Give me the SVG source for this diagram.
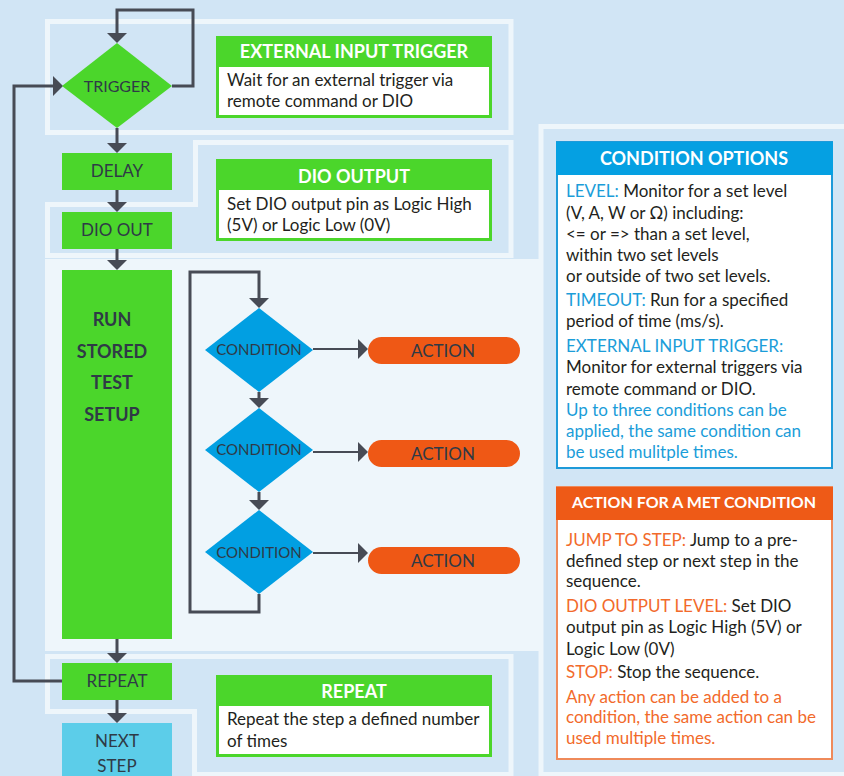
<svg xmlns="http://www.w3.org/2000/svg" width="844" height="776" viewBox="0 0 844 776">
<defs>
<style>
.bg{fill:#D1E5F5}
.pan{fill:none;stroke:#EEF6FB;stroke-width:5}
.panf{fill:#EEF6FB}
.green{fill:#4BD62B}
.blue{fill:#019FE2}
.orange{fill:#EF5815}
.cyan{fill:#5CCDE9}
.white{fill:#FFFFFF}
.conn{fill:none;stroke:#474B55;stroke-width:3}
.thin{fill:none;stroke:#474B55;stroke-width:2}
.nt{font-family:Lato,"Liberation Sans",sans-serif;fill:#2F3A46;text-anchor:middle}
.bt{font-family:Lato,"Liberation Sans",sans-serif;font-weight:bold;fill:#2F3A46;text-anchor:middle;font-size:18px}
.title{font-family:Lato,"Liberation Sans",sans-serif;font-weight:bold;fill:#FFFFFF;text-anchor:middle}
.body{font-family:Lato,"Liberation Sans",sans-serif;fill:#231F20;font-size:17px}
.lb{fill:#1B9DD9}
.lo{fill:#F26A2B}
</style>
<marker id="ah" markerUnits="userSpaceOnUse" viewBox="0 0 10 20" refX="0" refY="10" markerWidth="10" markerHeight="20" orient="auto">
<path d="M0,0 L10,10 L0,20 Z" fill="#474B55"/>
</marker>
</defs>
<rect class="bg" x="0" y="0" width="844" height="776"/>
<g id="panels">
<rect class="panf" x="45" y="259" width="496" height="392"/>
<rect class="pan" x="47.5" y="21.5" width="463.5" height="111"/>
<path class="pan" d="M195.5,142.5 H511 V255.5 H47.5 V204.5 H195.5 Z"/>
<path class="pan" d="M47.5,656.5 H511 V774.5 H194.5 V711.5 H47.5 Z"/>
<rect class="pan" x="541" y="126.5" width="310" height="648"/>
</g>
<g id="connectors">
<path class="conn" d="M172,86 H193 V10 H117 V33" marker-end="url(#ah)"/>
<path class="conn" d="M117,128 V143" marker-end="url(#ah)"/>
<path class="conn" d="M117,190 V202" marker-end="url(#ah)"/>
<path class="conn" d="M117,249 V260" marker-end="url(#ah)"/>
<path class="conn" d="M117,639 V653" marker-end="url(#ah)"/>
<path class="conn" d="M117,700 V713" marker-end="url(#ah)"/>
<path class="conn" d="M62,681 H14 V86 H53" marker-end="url(#ah)"/>
<path class="conn" d="M259,594 V612 H190 V272 H259 V298" marker-end="url(#ah)"/>
<path class="conn" d="M259,392 V398" marker-end="url(#ah)"/>
<path class="conn" d="M259,492 V500" marker-end="url(#ah)"/>
<path class="thin" d="M313,349 H358" marker-end="url(#ah)"/>
<path class="thin" d="M313,452 H358" marker-end="url(#ah)"/>
<path class="thin" d="M313,553 H358" marker-end="url(#ah)"/>
</g>
<g id="trigger">
<polygon class="green" points="117,43 172,86 117,128 62,86"/>
<text class="nt" x="117" y="91.5" font-size="16">TRIGGER</text>
</g>
<g id="delay">
<rect class="green" x="62" y="153" width="110" height="37"/>
<text class="nt" x="117" y="177" font-size="17">DELAY</text>
</g>
<g id="dio-out">
<rect class="green" x="62" y="212" width="110" height="37"/>
<text class="nt" x="117" y="236" font-size="17">DIO OUT</text>
</g>
<g id="run">
<rect class="green" x="62" y="270" width="110" height="369"/>
<text class="bt" x="112" y="326">RUN</text>
<text class="bt" x="112" y="358">STORED</text>
<text class="bt" x="112" y="389">TEST</text>
<text class="bt" x="112" y="421">SETUP</text>
</g>
<g id="condition1">
<polygon class="blue" points="259,308 313,350 259,392 205,350"/>
<text class="nt" x="259" y="354.5" font-size="15">CONDITION</text>
</g>
<g id="condition2">
<polygon class="blue" points="259,408 313,450 259,492 205,450"/>
<text class="nt" x="259" y="454.5" font-size="15">CONDITION</text>
</g>
<g id="condition3">
<polygon class="blue" points="259,510 313,552 259,594 205,552"/>
<text class="nt" x="259" y="557.5" font-size="15">CONDITION</text>
</g>
<g id="action1">
<rect class="orange" x="368" y="337" width="152" height="27" rx="13.5"/>
<text class="nt" x="443" y="356.5" font-size="17">ACTION</text>
</g>
<g id="action2">
<rect class="orange" x="368" y="440" width="152" height="27" rx="13.5"/>
<text class="nt" x="443" y="459.5" font-size="17">ACTION</text>
</g>
<g id="action3">
<rect class="orange" x="368" y="547" width="152" height="27" rx="13.5"/>
<text class="nt" x="443" y="566.5" font-size="17">ACTION</text>
</g>
<g id="repeat">
<rect class="green" x="62" y="663" width="110" height="37"/>
<text class="nt" x="117" y="687" font-size="17">REPEAT</text>
</g>
<g id="next-step">
<rect class="cyan" x="62" y="723" width="110" height="60"/>
<text class="nt" x="117" y="747" font-size="17">NEXT</text>
<text class="nt" x="117" y="772" font-size="17">STEP</text>
</g>
<g id="info-trigger">
<rect class="green" x="216" y="36" width="276" height="82"/>
<rect class="white" x="219" y="67" width="270" height="48"/>
<text class="title" x="354" y="58" font-size="18">EXTERNAL INPUT TRIGGER</text>
<text class="body" x="227" y="86">Wait for an external trigger via</text>
<text class="body" x="227" y="107">remote command or DIO</text>
</g>
<g id="info-dio">
<rect class="green" x="216" y="159" width="276" height="82"/>
<rect class="white" x="219" y="190" width="270" height="48"/>
<text class="title" x="354" y="183" font-size="18">DIO OUTPUT</text>
<text class="body" x="227" y="210">Set DIO output pin as Logic High</text>
<text class="body" x="227" y="231">(5V) or Logic Low (0V)</text>
</g>
<g id="info-repeat">
<rect class="green" x="216" y="675" width="276" height="82"/>
<rect class="white" x="219" y="706" width="270" height="48"/>
<text class="title" x="354" y="698" font-size="18">REPEAT</text>
<text class="body" x="227" y="725">Repeat the step a defined number</text>
<text class="body" x="227" y="747">of times</text>
</g>
<g id="condition-options">
<rect x="557" y="142" width="275" height="326" fill="#FFFFFF" stroke="#1E9AD9" stroke-width="2"/>
<rect x="556" y="142" width="277" height="33" fill="#05A0E2"/>
<text class="title" x="694" y="165" font-size="18">CONDITION OPTIONS</text>
<text class="body" x="566" y="197"><tspan class="lb">LEVEL:</tspan> Monitor for a set level</text>
<text class="body" x="566" y="219">(V, A, W or Ω) including:</text>
<text class="body" x="566" y="240">&lt;= or =&gt; than a set level,</text>
<text class="body" x="566" y="261">within two set levels</text>
<text class="body" x="566" y="282">or outside of two set levels.</text>
<text class="body" x="566" y="306"><tspan class="lb">TIMEOUT:</tspan> Run for a specified</text>
<text class="body" x="566" y="327">period of time (ms/s).</text>
<text class="body lb" x="566" y="352">EXTERNAL INPUT TRIGGER:</text>
<text class="body" x="566" y="373">Monitor for external triggers via</text>
<text class="body" x="566" y="395">remote command or DIO.</text>
<text class="body lb" x="566" y="416">Up to three conditions can be</text>
<text class="body lb" x="566" y="437">applied, the same condition can</text>
<text class="body lb" x="566" y="458">be used mulitple times.</text>
</g>
<g id="action-options">
<rect x="557" y="487" width="275" height="272" fill="#FFFFFF" stroke="#EF8A5A" stroke-width="2"/>
<rect x="556" y="487" width="277" height="33" fill="#EE5A17"/>
<text class="title" x="694" y="508" font-size="16">ACTION FOR A MET CONDITION</text>
<text class="body" x="566" y="546"><tspan class="lo">JUMP TO STEP:</tspan> Jump to a pre-</text>
<text class="body" x="566" y="567">defined step or next step in the</text>
<text class="body" x="566" y="587">sequence.</text>
<text class="body" x="566" y="612"><tspan class="lo">DIO OUTPUT LEVEL:</tspan> Set DIO</text>
<text class="body" x="566" y="633">output pin as Logic High (5V) or</text>
<text class="body" x="566" y="655">Logic Low (0V)</text>
<text class="body" x="566" y="678"><tspan class="lo">STOP:</tspan> Stop the sequence.</text>
<text class="body lo" x="566" y="703">Any action can be added to a</text>
<text class="body lo" x="566" y="723">condition, the same action can be</text>
<text class="body lo" x="566" y="744">used multiple times.</text>
</g>
</svg>
